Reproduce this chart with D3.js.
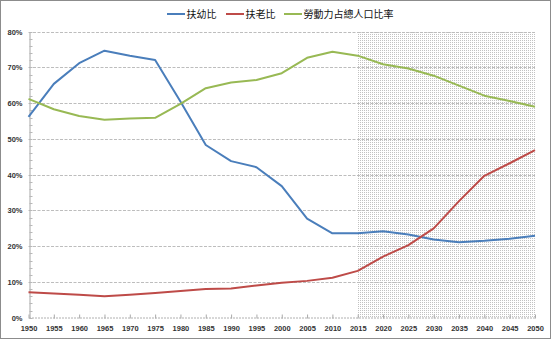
<!DOCTYPE html>
<html>
<head>
<meta charset="utf-8">
<script src="https://cdn.jsdelivr.net/npm/d3@7"></script>
<style>
  html, body { margin: 0; padding: 0; background: #fff; }
  svg { display: block; }
  .tick-label { font-family: "Liberation Sans", Arial, sans-serif; font-weight: bold; font-size: 7.5px; fill: #333; }
  .legend-label { font-family: "Noto Sans CJK TC", "Noto Sans CJK SC", sans-serif; font-size: 10px; fill: #111; }
</style>
</head>
<body>
<svg id="chart" width="553" height="340"></svg>
<script>
// Population ratios, 1950–2050 (2015 onward are projections)
const years = [1950, 1955, 1960, 1965, 1970, 1975, 1980, 1985, 1990, 1995, 2000,
               2005, 2010, 2015, 2020, 2025, 2030, 2035, 2040, 2045, 2050];
const youthRatio   = [56.2, 65.4, 71.2, 74.7, 73.3, 72.1, 60.5, 48.3, 43.8, 42.1, 36.8,
                      27.7, 23.6, 23.6, 24.2, 23.3, 21.9, 21.1, 21.5, 22.1, 22.9];
const elderRatio   = [7.1, 6.8, 6.4, 6.0, 6.4, 6.9, 7.5, 8.0, 8.2, 9.0, 9.8,
                      10.3, 11.2, 13.1, 17.1, 20.3, 25.0, 32.6, 39.7, 43.2, 46.9];
const workingRatio = [61.2, 58.3, 56.4, 55.4, 55.7, 55.9, 59.8, 64.2, 65.8, 66.5, 68.4,
                      72.7, 74.4, 73.3, 70.9, 69.7, 67.7, 64.9, 62.1, 60.6, 59.0];
const seriesNames  = ["扶幼比", "扶老比", "勞動力占總人口比率"];
const seriesColors = ["#4a7ebb", "#be4b48", "#98b954"];
const yTicks = [0, 10, 20, 30, 40, 50, 60, 70, 80];
const projectionStart = 2015;

const svg = d3.select("#chart");
const plotLeft = 28.5, plotRight = 535, plotTop = 31.7, plotBottom = 317.7;

const x = d3.scaleLinear().domain([1950, 2050]).range([plotLeft, plotRight]);
const y = d3.scaleLinear().domain([0, 80]).range([plotBottom, plotTop]);

// outer frame
svg.append("rect").attr("x", 0.5).attr("y", 0.5).attr("width", 550).attr("height", 338)
  .attr("fill", "#fff").attr("stroke", "#8c8c8c").attr("stroke-width", 1);

// dotted fill for the projection period
const defs = svg.append("defs");
const pat = defs.append("pattern").attr("id", "dots").attr("patternUnits", "userSpaceOnUse")
  .attr("width", 2).attr("height", 2);
pat.append("rect").attr("width", 2).attr("height", 2).attr("fill", "#fff");
pat.append("rect").attr("width", 1).attr("height", 1).attr("fill", "#c2c2c2");

svg.append("rect")
  .attr("x", x(projectionStart)).attr("y", y(80))
  .attr("width", x(2050) - x(projectionStart)).attr("height", y(0) - y(80))
  .attr("fill", "url(#dots)");

// horizontal gridlines
svg.append("g").selectAll("line").data(yTicks.filter(d => d > 0)).join("line")
  .attr("x1", plotLeft).attr("x2", plotRight)
  .attr("y1", d => Math.round(y(d)) + 0.5).attr("y2", d => Math.round(y(d)) + 0.5)
  .attr("stroke", "#bdbdbd").attr("stroke-width", 1).attr("stroke-dasharray", "3,1.5");

// y axis
const yAxis = d3.axisLeft(y).tickValues(yTicks).tickSize(0).tickPadding(7)
  .tickFormat(d => d + "%");
const gy = svg.append("g").attr("transform", `translate(${Math.round(plotLeft) + 0.5},0)`).call(yAxis);
gy.select(".domain").attr("stroke", "#a6a6a6");
gy.selectAll("text").attr("class", "tick-label").attr("font-family", null).attr("font-size", null);
// minor ticks along the y axis
const yMinor = d3.range(0, 81, 2);
svg.append("g").selectAll("line").data(yMinor).join("line")
  .attr("x1", Math.round(plotLeft) + 0.5).attr("x2", Math.round(plotLeft) + 3.5)
  .attr("y1", d => Math.round(y(d)) + 0.5).attr("y2", d => Math.round(y(d)) + 0.5)
  .attr("stroke", "#b8b8b8");

// x axis
const xAxis = d3.axisBottom(x).tickValues(years).tickSize(0).tickPadding(8)
  .tickFormat(d3.format("d"));
const gx = svg.append("g").attr("transform", `translate(0,${Math.round(plotBottom) - 0.5})`).call(xAxis);
gx.select(".domain").attr("stroke", "#b0b0b0").attr("stroke-dasharray", "2,1");
gx.selectAll("text").attr("class", "tick-label").attr("font-family", null).attr("font-size", null);
gx.selectAll(".tick").append("line").attr("y1", -3).attr("y2", 1).attr("stroke", "#aaa");

// series lines
const seriesData = [youthRatio, elderRatio, workingRatio];
const line = d3.line().x((d, i) => x(years[i])).y(d => y(d));
svg.append("g").selectAll("path").data(seriesData).join("path")
  .attr("d", line)
  .attr("fill", "none")
  .attr("stroke", (d, i) => seriesColors[i])
  .attr("stroke-width", 2)
  .attr("stroke-linejoin", "round");

// legend
const legendItems = [
  { x: 167, name: seriesNames[0], color: seriesColors[0] },
  { x: 226, name: seriesNames[1], color: seriesColors[1] },
  { x: 284, name: seriesNames[2], color: seriesColors[2] }
];
const lg = svg.append("g").selectAll("g").data(legendItems).join("g")
  .attr("transform", d => `translate(${d.x},14)`);
lg.append("line").attr("x1", 0).attr("x2", 18).attr("y1", 0).attr("y2", 0)
  .attr("stroke", d => d.color).attr("stroke-width", 2);
lg.append("text").attr("class", "legend-label").attr("x", 19.5).attr("y", 3.6)
  .text(d => d.name);
</script>
</body>
</html>
